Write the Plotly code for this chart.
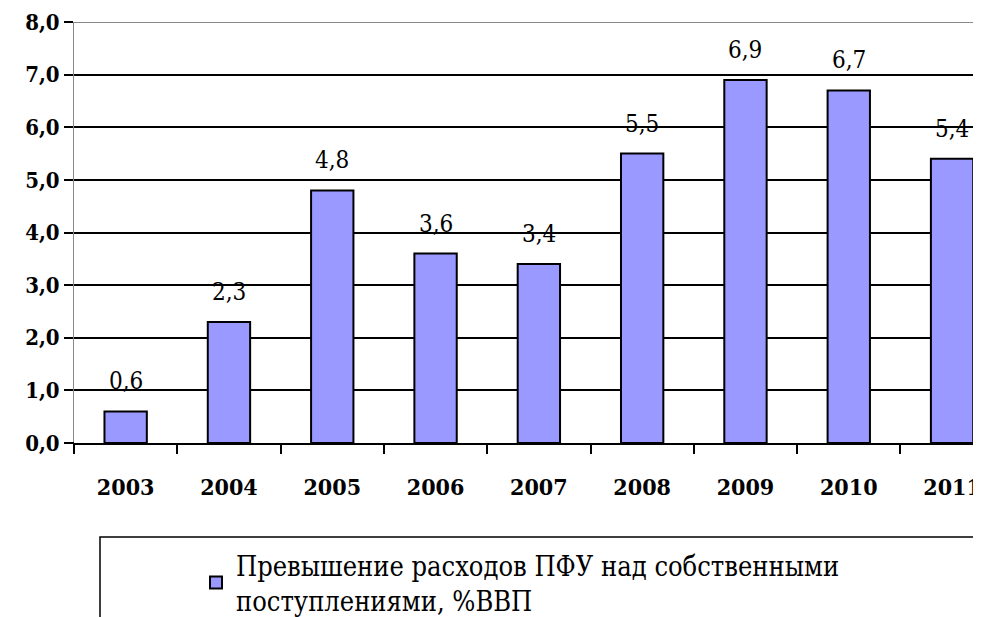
import plotly.graph_objects as go

years = ["2003", "2004", "2005", "2006", "2007", "2008", "2009", "2010", "2011"]
values = [0.6, 2.3, 4.8, 3.6, 3.4, 5.5, 6.9, 6.7, 5.4]
series_name = "Превышение расходов ПФУ над собственными<br>поступлениями, %ВВП"
y_ticks = [0, 1, 2, 3, 4, 5, 6, 7, 8]

font_family = "DejaVu Serif Condensed, DejaVu Serif, serif"

fig = go.Figure()
fig.add_trace(go.Bar(
    x=years, y=values, name=series_name,
    width=0.41,
    marker=dict(color="#9999ff", line=dict(color="black", width=2)),
    showlegend=True,
))

for i, v in enumerate(values):
    fig.add_annotation(x=i, y=v, text=f"{v:.1f}".replace(".", ","),
                       showarrow=False, yanchor="bottom", yshift=14,
                       font=dict(family=font_family, size=24, color="black"))

fig.add_shape(type="line", xref="paper", yref="y", x0=0, x1=1, y0=8, y1=8,
              line=dict(color="#888888", width=2))
fig.add_shape(type="line", xref="paper", yref="y", x0=-9 / 907, x1=0, y0=0, y1=0,
              line=dict(color="black", width=2))
fig.add_shape(type="rect", xref="paper", yref="paper",
              x0=(100 - 74) / 907, x1=1.2, y0=-(537 - 443) / 421, y1=-0.6,
              line=dict(color="black", width=1.5))

fig.update_layout(
    width=981, height=617,
    margin=dict(l=66, r=8, t=14, b=182, autoexpand=False),
    plot_bgcolor="white", paper_bgcolor="white",
    separators=",.",
    font=dict(family=font_family, color="black"),
    legend=dict(
        x=(196 - 74) / 907, y=-(541 - 443) / 421, xanchor="left", yanchor="top",
        font=dict(family=font_family, size=27, color="black"),
        bgcolor="rgba(0,0,0,0)", itemwidth=30,
    ),
    xaxis=dict(
        type="category",
        range=[-0.5, 8.28], tickson="boundaries", ticks="outside", ticklen=9,
        tickwidth=2, tickcolor="black", showline=True, linecolor="black", linewidth=2,
        tickfont=dict(family=font_family, size=23, color="black", weight="bold"),
        ticklabelstandoff=22,
        showgrid=False, automargin=False,
    ),
    yaxis=dict(
        range=[0, 8], tickvals=y_ticks, tickformat=".1f", ticks="outside", ticklen=9,
        tickwidth=2, tickcolor="black", showline=True, linecolor="#888888", linewidth=1,
        gridcolor="black", gridwidth=1.5, zeroline=False, automargin=False,
        tickfont=dict(family=font_family, size=22, color="black", weight="bold"),
    ),
)

fig.write_html("out.html")
